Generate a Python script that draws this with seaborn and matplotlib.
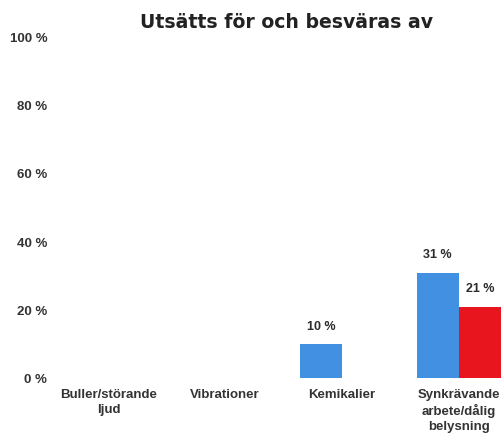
import matplotlib
matplotlib.use("Agg")
import matplotlib.pyplot as plt
import seaborn as sns
import pandas as pd

# Survey shares per exposure type
categories = ["Buller/störande\nljud", "Vibrationer", "Kemikalier",
              "Synkrävande\narbete/dålig\nbelysning"]
series_names = ["Utsätts för", "Besväras av"]
utsatts = [0, 0, 10, 31]
besvaras = [0, 0, 0, 21]
y_ticks = [0, 20, 40, 60, 80, 100]
y_tick_labels = [f"{v} %" for v in y_ticks]

df = pd.DataFrame({
    "Kategori": categories * 2,
    "Grupp": [series_names[0]] * len(categories) + [series_names[1]] * len(categories),
    "Andel": utsatts + besvaras,
})

sns.set_style("white")
plt.rcParams["font.family"] = ["Liberation Sans", "DejaVu Sans"]

W, H = 502, 436
fig = plt.figure(figsize=(W / 100, H / 100), dpi=100)
left, right, top, bottom = 50, 502, 38, 378
ax = fig.add_axes([left / W, 1 - bottom / H, (right - left) / W, (bottom - top) / H])

palette = {series_names[0]: "#4290E2", series_names[1]: "#E8141E"}
sns.barplot(data=df, x="Kategori", y="Andel", hue="Grupp", order=categories,
            hue_order=series_names, palette=palette, width=0.72, gap=0,
            saturation=1, legend=False, linewidth=0, ax=ax)

for cont in ax.containers:
    for bar in cont:
        h = bar.get_height()
        if h > 0:
            ax.text(bar.get_x() + bar.get_width() / 2, h + 3.3, f"{h:.0f} %",
                    ha="center", va="bottom", fontsize=9, fontweight="bold",
                    color="#2b2b2b")

ax.set_ylim(0, 100)
ax.set_xlim(-0.5, 3.37)
ax.set_yticks(y_ticks)
ax.set_yticklabels(y_tick_labels, fontsize=9.5, fontweight="bold", color="#333333")
ax.set_xticklabels(categories, fontsize=9.5, fontweight="bold", color="#333333",
                   linespacing=1.3)
ax.tick_params(axis="y", length=0, pad=2)
ax.tick_params(axis="x", length=0, pad=8)
ax.set_xlabel("")
ax.set_ylabel("")
for s in ax.spines.values():
    s.set_visible(False)
ax.grid(False)

fig.text(287 / W, 1 - 23 / H, "Utsätts för och besväras av", ha="center",
         va="center", fontsize=13.6, fontweight="bold", color="#222222",
         family=["DejaVu Sans"])

fig.savefig("out.png", dpi=100)
